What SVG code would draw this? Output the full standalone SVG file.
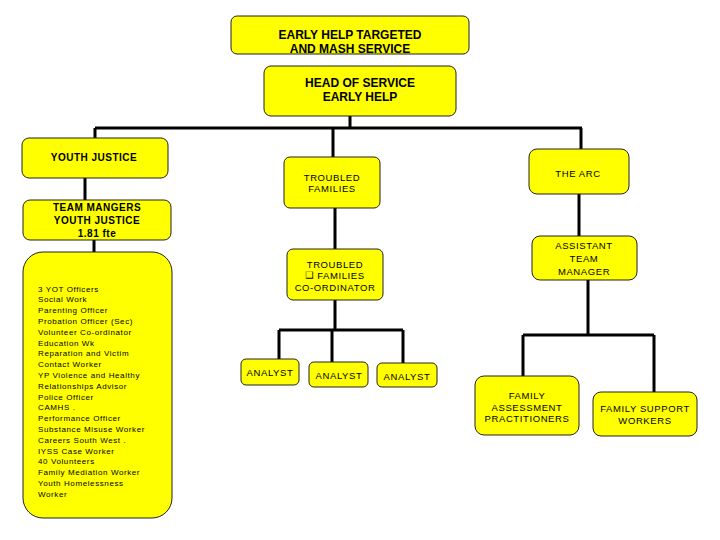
<svg xmlns="http://www.w3.org/2000/svg" width="720" height="540" viewBox="0 0 720 540">
<style>
.box{fill:#FFFF00;stroke:#222;stroke-width:1}
.c{fill:none;stroke:#000;stroke-width:3}
text{font-family:"Liberation Sans",Arial,sans-serif;fill:#000;text-anchor:middle;dominant-baseline:central}
.t{font-size:12px;font-weight:bold}
.b{font-size:10px;font-weight:bold;letter-spacing:0.5px}
.n{font-size:9.5px;letter-spacing:0.6px}
.s{font-size:8px;letter-spacing:0.6px;text-anchor:start}
</style>
<rect width="720" height="540" fill="#fff"/>
<g id="connectors">
<path class="c" d="M350 116V128M95 128H582M95 128V140M333 128V157M581 128V149"/>
<path class="c" d="M85 178V200M94 240V253"/>
<path class="c" d="M335 208V249M335 300V330M279 330H403M279 330V359M332 330V362M403 330V363"/>
<path class="c" d="M579 194V236M588 280V335M523 335H654M523 335V376M654 335V392"/>
</g>
<g id="n-top"><rect class="box" x="231" y="16" width="238" height="38" rx="6"/>
<text class="t" x="350" y="35">EARLY HELP TARGETED</text><text class="t" x="350" y="49">AND MASH SERVICE</text></g>
<g id="n-head"><rect class="box" x="264" y="66" width="192" height="50" rx="7"/>
<text class="t" x="360" y="83">HEAD OF SERVICE</text><text class="t" x="360" y="97">EARLY HELP</text></g>
<g id="n-yj"><rect class="box" x="22" y="138" width="146" height="40" rx="7"/>
<text class="b" x="94" y="157">YOUTH JUSTICE</text></g>
<g id="n-tm"><rect class="box" x="23" y="200" width="148" height="40" rx="7"/>
<text class="b" x="97" y="207">TEAM MANGERS</text><text class="b" x="97" y="220">YOUTH JUSTICE</text><text class="b" x="97" y="233">1.81 fte</text></g>
<g id="n-staff"><rect class="box" x="23" y="252" width="149" height="266" rx="20"/>
<text class="s" x="38" y="289">3 YOT Officers</text>
<text class="s" x="38" y="299.8">Social Work</text>
<text class="s" x="38" y="310.6">Parenting Officer</text>
<text class="s" x="38" y="321.4">Probation Officer (Sec)</text>
<text class="s" x="38" y="332.2">Volunteer  Co-ordinator</text>
<text class="s" x="38" y="343">Education Wk</text>
<text class="s" x="38" y="353.8">Reparation and Victim</text>
<text class="s" x="38" y="364.6">Contact Worker</text>
<text class="s" x="38" y="375.4">YP Violence and Healthy</text>
<text class="s" x="38" y="386.2"> Relationships Advisor</text>
<text class="s" x="38" y="397"> Police Officer</text>
<text class="s" x="38" y="407.8">CAMHS .</text>
<text class="s" x="38" y="418.6">Performance Officer</text>
<text class="s" x="38" y="429.4">Substance Misuse  Worker</text>
<text class="s" x="38" y="440.2">Careers South West .</text>
<text class="s" x="38" y="451">IYSS Case Worker</text>
<text class="s" x="38" y="461.8">40 Volunteers</text>
<text class="s" x="38" y="472.6">Family Mediation Worker</text>
<text class="s" x="38" y="483.4">Youth Homelessness</text>
<text class="s" x="38" y="494.2">Worker</text></g>
<g id="n-tf"><rect class="box" x="284" y="157" width="96" height="51" rx="6"/>
<text class="n" x="332" y="177">TROUBLED</text><text class="n" x="332" y="188">FAMILIES</text></g>
<g id="n-tfc"><rect class="box" x="287" y="249" width="96" height="51" rx="6"/>
<text class="n" x="335" y="264">TROUBLED</text><text class="n" x="335" y="275"><tspan font-family="DejaVu Sans" font-size="9">❑</tspan>  FAMILIES</text><text class="n" x="335" y="287">CO-ORDINATOR</text></g>
<g id="n-a1"><rect class="box" x="241" y="359" width="58" height="26" rx="5"/><text class="n" x="270" y="372">ANALYST</text></g>
<g id="n-a2"><rect class="box" x="309" y="362" width="59" height="25" rx="5"/><text class="n" x="339" y="375">ANALYST</text></g>
<g id="n-a3"><rect class="box" x="377" y="363" width="60" height="24" rx="5"/><text class="n" x="407" y="376">ANALYST</text></g>
<g id="n-arc"><rect class="box" x="529" y="149" width="100" height="45" rx="8"/><text class="n" x="578" y="173">THE ARC</text></g>
<g id="n-atm"><rect class="box" x="532" y="236" width="105" height="44" rx="8"/>
<text class="n" x="584" y="245">ASSISTANT</text><text class="n" x="584" y="258">TEAM</text><text class="n" x="584" y="271">MANAGER</text></g>
<g id="n-fap"><rect class="box" x="475" y="376" width="104" height="59" rx="9"/>
<text class="n" x="527" y="395">FAMILY</text><text class="n" x="527" y="407">ASSESSMENT</text><text class="n" x="527" y="418">PRACTITIONERS</text></g>
<g id="n-fsw"><rect class="box" x="593" y="392" width="104" height="44" rx="8"/>
<text class="n" x="645" y="408">FAMILY SUPPORT</text><text class="n" x="645" y="420">WORKERS</text></g>
</svg>
